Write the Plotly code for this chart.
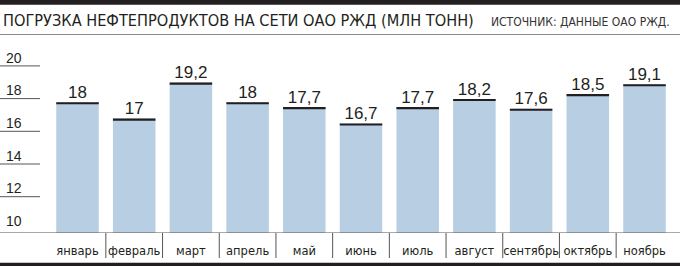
import plotly.graph_objects as go

months = ["январь", "февраль", "март", "апрель", "май", "июнь",
          "июль", "август", "сентябрь", "октябрь", "ноябрь"]
values = [18, 17, 19.2, 18, 17.7, 16.7, 17.7, 18.2, 17.6, 18.5, 19.1]
value_labels = ["18", "17", "19,2", "18", "17,7", "16,7", "17,7", "18,2", "17,6", "18,5", "19,1"]
y_ticks = [10, 12, 14, 16, 18, 20]
y_tick_labels = ["10", "12", "14", "16", "18", "20"]

TITLE = "ПОГРУЗКА НЕФТЕПРОДУКТОВ НА СЕТИ ОАО РЖД (МЛН ТОНН)"
SOURCE = "ИСТОЧНИК: ДАННЫЕ ОАО РЖД."

W, H = 680, 266
ML, MR, MT, MB = 46, 4, 40, 33
PW, PH = W - ML - MR, H - MT - MB
Y0 = 10
SCALE = 16.35  # px per unit
YTOP = Y0 + PH / SCALE

NARROW = "DejaVu Sans Condensed, Liberation Sans Narrow, sans-serif"
SANS = "Liberation Sans, Arial, sans-serif"
INK = "#231f20"
BAR = "#b8cee3"
CAP = 0.13


def py(p):
    return (H - MB - p) / PH


def px(p):
    return (p - ML) / PW


fig = go.Figure()
fig.add_trace(go.Bar(x=months, y=values, marker=dict(color=BAR, line=dict(width=0)),
                     hoverinfo="skip"))
fig.add_trace(go.Bar(x=months, y=[CAP] * len(values), base=[v - CAP for v in values],
                     marker=dict(color=INK, line=dict(width=0)), hoverinfo="skip"))
fig.add_trace(go.Scatter(x=months, y=values, mode="text", text=value_labels,
                         textposition="top center", cliponaxis=False,
                         textfont=dict(family=SANS, size=17, color=INK),
                         hoverinfo="skip"))

shapes = []
# header bar, rule, bottom bar
shapes.append(dict(type="rect", xref="paper", yref="paper", x0=px(0), x1=px(W),
                   y0=py(0), y1=py(4.7), fillcolor=INK, line=dict(width=0), layer="above"))
shapes.append(dict(type="line", xref="paper", yref="paper", x0=px(0), x1=px(W),
                   y0=py(34.5), y1=py(34.5), line=dict(color="#8a8a8a", width=1)))
shapes.append(dict(type="rect", xref="paper", yref="paper", x0=px(0), x1=px(W),
                   y0=py(262.7), y1=py(H), fillcolor=INK, line=dict(width=0)))
# baseline
shapes.append(dict(type="line", xref="paper", yref="y", x0=px(0), x1=px(W),
                   y0=Y0, y1=Y0, line=dict(color="#555555", width=1), layer="above"))
# label underlines
for v in y_ticks[1:]:
    shapes.append(dict(type="line", xref="paper", yref="y", x0=px(0), x1=px(40),
                       y0=v + 0.22, y1=v + 0.22, line=dict(color="#555555", width=1)))
# category separators
for i in range(len(months) - 1):
    shapes.append(dict(type="line", xref="x", yref="paper", x0=i + 0.5, x1=i + 0.5,
                       y0=py(233), y1=py(258), line=dict(color="#555555", width=1)))

annotations = [
    dict(text=TITLE, xref="paper", yref="paper", x=px(1), y=py(20), xanchor="left",
         yanchor="middle", showarrow=False, font=dict(family=NARROW, size=16.2, color=INK)),
    dict(text=SOURCE, xref="paper", yref="paper", x=px(672), y=py(22.5), xanchor="right",
         yanchor="middle", showarrow=False, font=dict(family=NARROW, size=12, color="#333333")),
]
for v, t in zip(y_ticks, y_tick_labels):
    annotations.append(dict(text=t, xref="paper", yref="y", x=px(4), y=v, xanchor="left",
                            yanchor="bottom", yshift=2, showarrow=False,
                            font=dict(family=SANS, size=14, color=INK)))

fig.update_layout(
    width=W, height=H, margin=dict(l=ML, r=MR, t=MT, b=MB, pad=0, autoexpand=False),
    paper_bgcolor="white", plot_bgcolor="white",
    barmode="overlay", bargap=0.25, showlegend=False,
    shapes=shapes, annotations=annotations,
    xaxis=dict(type="category", showgrid=False, zeroline=False, showline=False,
               automargin=False, tickangle=0,
               ticks="outside", ticklen=6, tickcolor="rgba(0,0,0,0)",
               tickfont=dict(family=NARROW, size=12.8, color=INK), fixedrange=True),
    yaxis=dict(range=[Y0, YTOP], showgrid=False, zeroline=False, showline=False,
               automargin=False,
               showticklabels=False, ticks="", fixedrange=True),
)

fig.write_html("out.html", config={"displayModeBar": False})
